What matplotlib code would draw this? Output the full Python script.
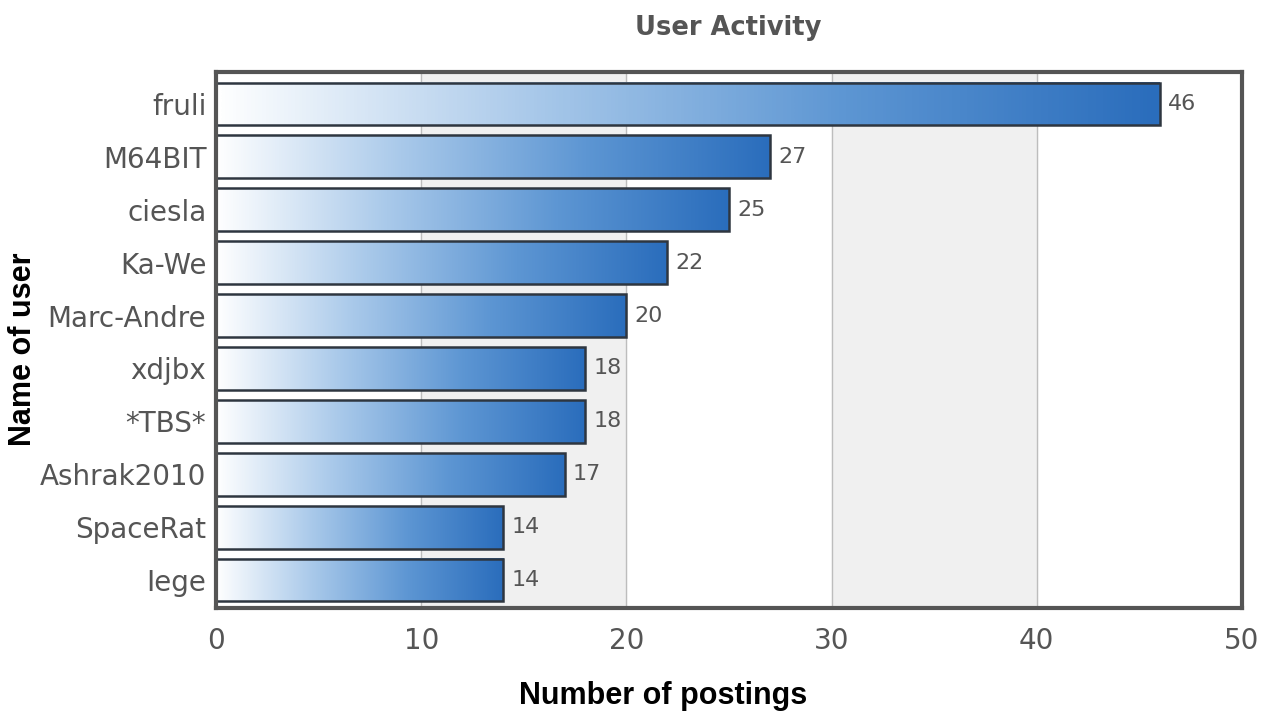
import numpy as np
import matplotlib.pyplot as plt
from matplotlib.colors import LinearSegmentedColormap

# Data
users = ['fruli', 'M64BIT', 'ciesla', 'Ka-We', 'Marc-Andre', 'xdjbx', '*TBS*',
         'Ashrak2010', 'SpaceRat', 'Iege']
postings = [46, 27, 25, 22, 20, 18, 18, 17, 14, 14]
xticks = [0, 10, 20, 30, 40, 50]

fig = plt.figure(figsize=(12.64, 7.14), dpi=100)
ax = fig.add_axes([216/1264, 1-608/714, (1242-216)/1264, (608-72)/714])

cmap = LinearSegmentedColormap.from_list('bar', ['#ffffff', '#a9c9ea', '#5d96d3', '#2a6dbc'])
grad = np.linspace(0, 1, 256).reshape(1, -1)

n = len(users)
ypos = np.arange(n)
h = 0.81

# bandes de fond alternées
for i in range(len(xticks) - 1):
    if i % 2 == 1:
        ax.axvspan(xticks[i], xticks[i+1], color='#f0f0f0', zorder=0)
for x in xticks[1:-1]:
    ax.axvline(x, color='#bdbdbd', lw=1, zorder=1)

for y, v in zip(ypos, postings):
    ax.imshow(grad, extent=[0, v, y + h/2, y - h/2], cmap=cmap, aspect='auto',
              interpolation='bicubic', zorder=2)
    ax.text(v + 0.4, y, str(v), va='center', ha='left', fontsize=16,
            color='#555555', family='DejaVu Sans Condensed')

ax.barh(ypos, postings, height=h, fill=False, edgecolor='#2e3640', linewidth=1.8, zorder=3)

ax.set_xlim(0, 50)
ax.set_ylim(9.53, -0.605)
ax.set_xticks(xticks)
ax.set_yticks(ypos)
ax.set_yticklabels(users)
ax.tick_params(axis='both', length=0, labelsize=20, labelcolor='#555555')
ax.tick_params(axis='x', pad=14)
ax.tick_params(axis='y', pad=7)
for lab in ax.get_xticklabels() + ax.get_yticklabels():
    lab.set_family('DejaVu Sans Condensed')

for s in ax.spines.values():
    s.set_color('#555555')
    s.set_linewidth(3)
    s.set_zorder(5)

fig.text(728/1264, 1-28/714, 'User Activity', ha='center', va='center', fontsize=18.5,
         fontweight='bold', color='#555555', family='DejaVu Sans Condensed')
fig.text(663/1264, 1-696/714, 'Number of postings', ha='center', va='center',
         fontsize=22, fontweight='bold', color='black', family='Liberation Sans')
fig.text(23/1264, 1-349/714, 'Name of user', ha='center', va='center', rotation=90,
         fontsize=22, fontweight='bold', color='black', family='Liberation Sans')

fig.savefig('out.png', dpi=100)
